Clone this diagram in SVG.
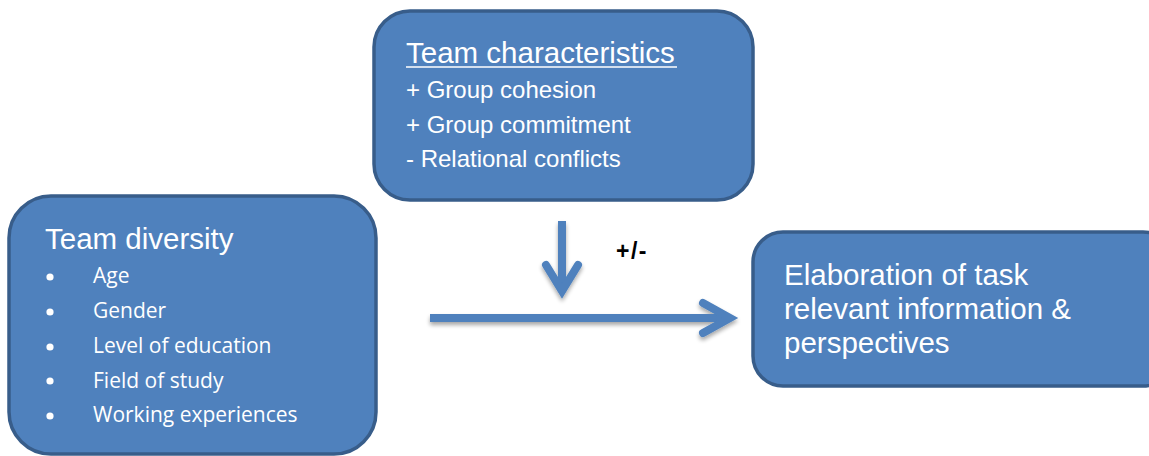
<svg xmlns="http://www.w3.org/2000/svg" width="1149" height="456" viewBox="0 0 1149 456">
  <style>
    .box { fill: #4f81bd; stroke: #385d8a; stroke-width: 3.5; }
    .t { font-family: "Liberation Sans", Arial, sans-serif; fill: #ffffff; }
    .big { font-size: 29.5px; }
    .med { font-size: 24px; }
    .li { font-family: "Open Sans", "Noto Sans", sans-serif; font-size: 21px; fill: #ffffff; }
    .arrow { fill: none; stroke: #4f81bd; stroke-width: 8; stroke-linecap: butt; stroke-linejoin: miter; }
    .head { fill: none; stroke: #4f81bd; stroke-width: 8; stroke-linecap: round; stroke-linejoin: miter; }
  </style>
  <defs>
    <filter id="sh" x="-20%" y="-50%" width="140%" height="200%">
      <feGaussianBlur in="SourceAlpha" stdDeviation="2"/>
      <feOffset dx="0" dy="3" result="b"/>
      <feComponentTransfer><feFuncA type="linear" slope="0.35"/></feComponentTransfer>
      <feMerge><feMergeNode/><feMergeNode in="SourceGraphic"/></feMerge>
    </filter>
  </defs>
  <rect width="1149" height="456" fill="#ffffff"/>

  <g id="team-characteristics">
    <rect class="box" x="374" y="11" width="379" height="189" rx="36" ry="36"/>
    <text class="t big" x="406" y="63">Team characteristics</text>
    <line x1="406" y1="67" x2="677" y2="67" stroke="#ffffff" stroke-width="1.6"/>
    <text class="t med" x="406" y="98">+ Group cohesion</text>
    <text class="t med" x="406" y="133">+ Group commitment</text>
    <text class="t med" x="406" y="167">- Relational conflicts</text>
  </g>

  <g id="team-diversity">
    <rect class="box" x="9" y="196" width="367" height="258" rx="42" ry="42"/>
    <text class="t big" x="45" y="249">Team diversity</text>
    <g fill="#ffffff">
      <circle cx="50" cy="277" r="3.6"/>
      <circle cx="50" cy="312" r="3.6"/>
      <circle cx="50" cy="347" r="3.6"/>
      <circle cx="50" cy="381" r="3.6"/>
      <circle cx="50" cy="416" r="3.6"/>
    </g>
    <text class="li" x="93" y="283">Age</text>
    <text class="li" x="93" y="318">Gender</text>
    <text class="li" x="93" y="353">Level of education</text>
    <text class="li" x="93" y="388">Field of study</text>
    <text class="li" x="93" y="422">Working experiences</text>
  </g>

  <g id="elaboration">
    <rect class="box" x="753" y="232" width="420" height="154" rx="30" ry="30"/>
    <text class="t big" x="784" y="285">Elaboration of task</text>
    <text class="t big" x="784" y="319">relevant information &amp;</text>
    <text class="t big" x="784" y="353">perspectives</text>
  </g>

  <g id="connectors" filter="url(#sh)">
    <line class="arrow" x1="562" y1="221" x2="562" y2="290"/>
    <polyline class="head" points="546,265 562,291 578,265"/>
    <line class="arrow" x1="430" y1="318" x2="728" y2="318"/>
    <polyline class="head" points="703,303 730,318 703,333"/>
  </g>

  <g id="label">
    <text x="616" y="259" font-family="Liberation Sans, Arial, sans-serif" font-size="23" font-weight="bold" letter-spacing="1.5" fill="#000000">+/-</text>
  </g>
</svg>
